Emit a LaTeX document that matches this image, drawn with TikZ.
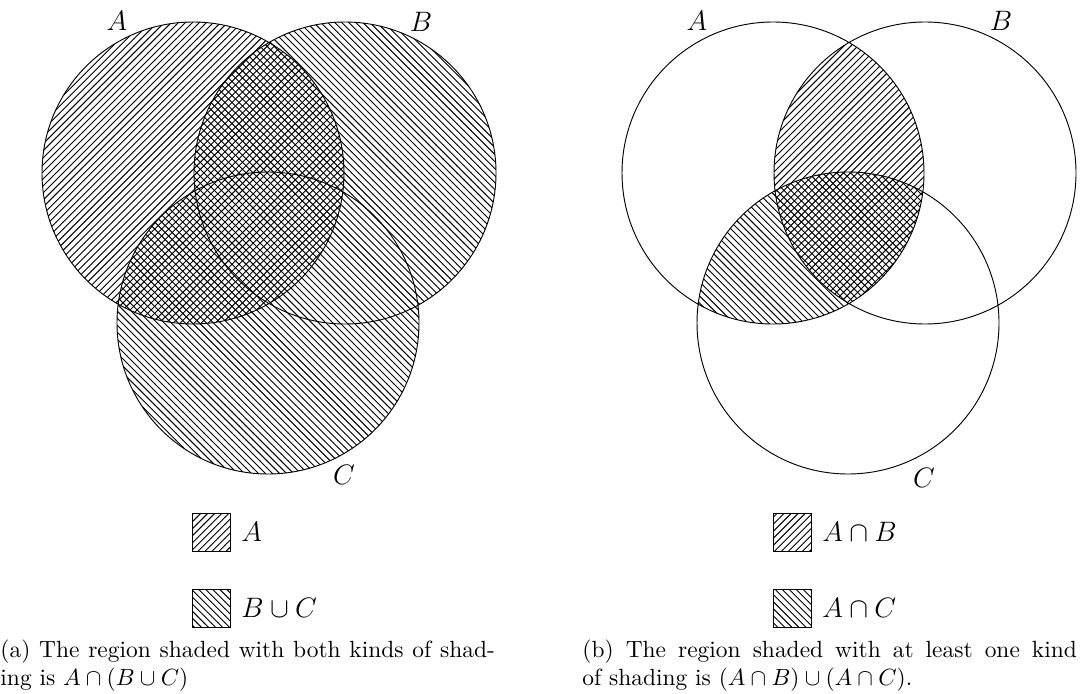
\documentclass[tikz,border=0pt]{standalone}
\usetikzlibrary{patterns,positioning}

\tikzset{
  hatchA/.style={pattern=north east lines},
  hatchB/.style={pattern=north west lines},
  setname/.style={font=\large},
  keybox/.style={draw, minimum size=16.2pt, inner sep=0pt},
  keytext/.style={right=4.5pt of #1, inner sep=0pt, font=\large},
  subcap/.style={anchor=north west, text width=211pt, inner sep=0pt, align=justify}
}

\begin{document}
\begin{tikzpicture}[x=0.015cm, y=0.015cm]
    \useasboundingbox (0,0) rectangle (1086,693);
    \def\rad{151}

    % (a) A and B u C
    \coordinate (lA) at (193,520);
    \coordinate (lB) at (345,520);
    \coordinate (lC) at (268,370);
    \fill[hatchA] (lA) circle (\rad);
    \fill[hatchB] (lB) circle (\rad) (lC) circle (\rad);
    \draw (lA) circle (\rad) (lB) circle (\rad) (lC) circle (\rad);
    \node[setname] (nameAl) at (117,672) {$A$};
    \node[setname] (nameBl) at (421,671) {$B$};
    \node[setname] (nameCl) at (344,218) {$C$};

    % (b) (A n B) u (A n C)
    \coordinate (rA) at (773,520);
    \coordinate (rB) at (925,520);
    \coordinate (rC) at (848,370);
    \begin{scope}
        \clip (rA) circle (\rad);
        \fill[hatchA] (rB) circle (\rad);
        \fill[hatchB] (rC) circle (\rad);
    \end{scope}
    \draw (rA) circle (\rad) (rB) circle (\rad) (rC) circle (\rad);
    \node[setname] (nameAr) at (697,672) {$A$};
    \node[setname] (nameBr) at (1001,672) {$B$};
    \node[setname] (nameCr) at (924,215) {$C$};

    % Legends
    \node[keybox, hatchA] (keyAl) at (211,161) {};
    \node[keytext=keyAl] (txtAl) {$A$};
    \node[keybox, hatchB] (keyBl) at (211,85) {};
    \node[keytext=keyBl] (txtBl) {$B\cup C$};
    \node[keybox, hatchA] (keyAr) at (792,161) {};
    \node[keytext=keyAr] (txtAr) {$A\cap B$};
    \node[keybox, hatchB] (keyBr) at (792,85) {};
    \node[keytext=keyBr] (txtBr) {$A\cap C$};

    % Captions
    \node[subcap] (capA) at (0,54)
        {(a) The region shaded with both kinds of shad-\linebreak ing is $A\cap(B\cup C)$};
    \node[subcap] (capB) at (582,54)
        {(b) The region shaded with at least one kind\linebreak of shading is $(A\cap B)\cup(A\cap C)$.};
\end{tikzpicture}
\end{document}
